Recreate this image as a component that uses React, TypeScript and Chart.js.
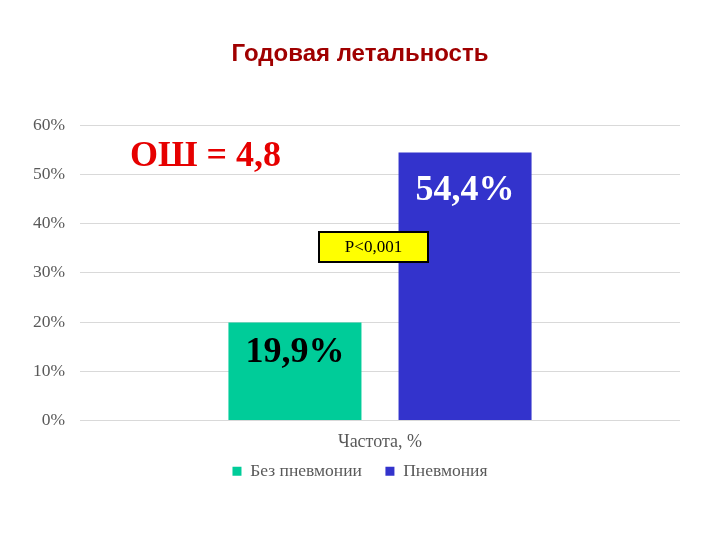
import React, { useEffect, useRef } from "react";
import { Chart, registerables } from "chart.js";

Chart.register(...registerables);

const categories = ["Частота, %"];
const seriesNames = ["Без пневмонии", "Пневмония"];
const seriesNoPneumonia = [19.9];
const seriesPneumonia = [54.4];
const valueLabels = [["19,9%"], ["54,4%"]];
const seriesColors = ["#00CC99", "#3333CC"];
const labelColors = ["#000000", "#FFFFFF"];
const yTicks = [0, 10, 20, 30, 40, 50, 60];

const SERIF = "'Liberation Serif', 'Times New Roman', serif";
const SANS = "'Liberation Sans', Arial, sans-serif";
const labelOffsets = [30, 38];

const annotations = {
  id: "annotations",
  afterDatasetsDraw(chart: any) {
    const ctx = chart.ctx;
    ctx.save();
    chart.data.datasets.forEach((ds: any, di: number) => {
      const meta = chart.getDatasetMeta(di);
      meta.data.forEach((el: any, i: number) => {
        ctx.font = `bold 36px ${SERIF}`;
        ctx.fillStyle = labelColors[di];
        ctx.textAlign = "center";
        ctx.textBaseline = "middle";
        ctx.fillText(valueLabels[di][i], el.x, el.y + labelOffsets[di]);
      });
    });
    ctx.restore();
  },
  afterDraw(chart: any) {
    const ctx = chart.ctx;
    ctx.save();
    ctx.font = `bold 24px ${SANS}`;
    ctx.fillStyle = "#A00000";
    ctx.textAlign = "center";
    ctx.textBaseline = "middle";
    ctx.fillText("Годовая летальность", 360, 54);
    ctx.font = `bold 36px ${SERIF}`;
    ctx.fillStyle = "#E60000";
    ctx.textAlign = "left";
    ctx.fillText("ОШ = 4,8", 130, 157);
    ctx.fillStyle = "#FFFF00";
    ctx.fillRect(319, 232, 109, 30);
    ctx.strokeStyle = "#000000";
    ctx.lineWidth = 2;
    ctx.strokeRect(319, 232, 109, 30);
    ctx.font = `17px ${SERIF}`;
    ctx.fillStyle = "#000000";
    ctx.textAlign = "center";
    ctx.fillText("P<0,001", 373.5, 247.5);
    ctx.restore();
  },
};

export default function App() {
  const ref = useRef<HTMLCanvasElement>(null);
  useEffect(() => {
    if (!ref.current) return;
    const chart = new Chart(ref.current, {
      type: "bar",
      data: {
        labels: categories,
        datasets: [
          {
            label: seriesNames[0],
            data: seriesNoPneumonia,
            backgroundColor: seriesColors[0],
            borderWidth: 0,
          },
          {
            label: seriesNames[1],
            data: seriesPneumonia,
            backgroundColor: seriesColors[1],
            borderWidth: 0,
          },
        ],
      },
      options: {
        responsive: false,
        animation: false,
        devicePixelRatio: 1,
        layout: { padding: { left: 0, right: 0, top: 125, bottom: 50 } },
        datasets: {
          bar: { categoryPercentage: 0.567, barPercentage: 0.782 },
        },
        scales: {
          x: {
            grid: { display: false, drawTicks: false },
            border: { display: false },
            ticks: {
              color: "#595959",
              font: { family: SERIF, size: 18 },
              padding: 11,
            },
            afterFit(scale: any) {
              scale.height = 36;
            },
          },
          y: {
            min: 0,
            max: 60,
            afterBuildTicks(scale: any) {
              scale.ticks = yTicks.map((v) => ({ value: v }));
            },
            grid: { color: "#D9D9D9", lineWidth: 1, drawTicks: false },
            border: { display: false },
            ticks: {
              color: "#595959",
              font: { family: SERIF, size: 17.5 },
              padding: 15,
              callback: (v: any) => `${v}%`,
            },
            afterFit(scale: any) {
              scale.width = 80;
            },
          },
          y2: {
            position: "right",
            min: 0,
            max: 60,
            grid: { display: false, drawTicks: false },
            border: { display: false },
            ticks: { display: false },
            afterFit(scale: any) {
              scale.width = 40;
            },
          },
        },
        plugins: {
          legend: {
            position: "bottom",
            labels: {
              boxWidth: 9,
              boxHeight: 9,
              color: "#595959",
              font: { family: SERIF, size: 17.5 },
              padding: 6,
              generateLabels: (c: any) =>
                Chart.defaults.plugins.legend.labels
                  .generateLabels(c)
                  .map((l: any, i: number) => ({
                    ...l,
                    text: i === 0 ? l.text + "\u2003" : l.text,
                  })),
            },
          },
          title: { display: false },
          tooltip: { enabled: false },
        },
      },
      plugins: [annotations],
    });
    return () => chart.destroy();
  }, []);
  return (
    <div style={{ position: "fixed", left: 0, top: 0, width: 720, height: 540, background: "#fff" }}>
      <canvas ref={ref} width={720} height={540} style={{ width: 720, height: 540 }} />
    </div>
  );
}
